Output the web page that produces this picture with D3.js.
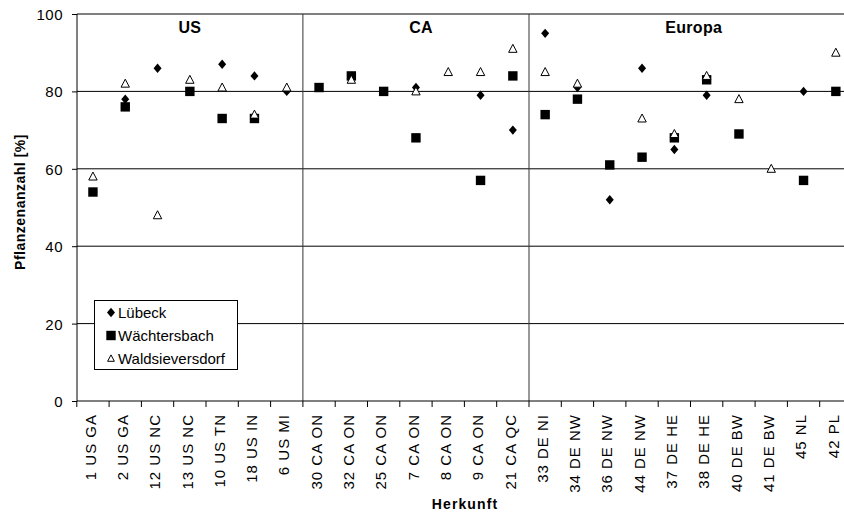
<!DOCTYPE html>
<html><head><meta charset="utf-8">
<script src="https://cdn.jsdelivr.net/npm/d3@7"></script>
<style>body{margin:0;background:#fff}svg{display:block;font-family:"Liberation Sans",Arial,sans-serif}</style>
</head><body>
<svg id="c" width="844" height="513"></svg>
<script>
const categories = ["1 US GA","2 US GA","12 US NC","13 US NC","10 US TN","18 US IN","6 US MI",
  "30 CA ON","32 CA ON","25 CA ON","7 CA ON","8 CA ON","9 CA ON","21 CA QC",
  "33 DE NI","34 DE NW","36 DE NW","44 DE NW","37 DE HE","38 DE HE","40 DE BW","41 DE BW","45 NL","42 PL"];
const luebeck = [null,78,86,null,87,84,80, null,null,null,81,null,79,70, 95,81,52,86,65,79,null,null,80,null];
const waechtersbach = [54,76,null,80,73,73,null, 81,84,80,68,null,57,84, 74,78,61,63,68,83,69,null,57,80];
const waldsieversdorf = [58,82,48,83,81,74,81, null,83,null,80,85,85,91, 85,82,null,73,69,84,78,60,null,90];
const yTicks = [0,20,40,60,80,100];
const groups = [{name:"US", pos:3.0},{name:"CA", pos:10.16},{name:"Europa", pos:18.6}];
const groupBreaks = [7,14];

const svg = d3.select("#c");
const x = d3.scaleLinear().domain([0, categories.length]).range([76.8, 852]);
const y = d3.scaleLinear().domain([0,100]).range([401,14]);

// gridlines
svg.append("g").selectAll("line").data(yTicks.filter(d=>d>0)).join("line")
  .attr("x1",77).attr("x2",852).attr("y1",d=>y(d)).attr("y2",d=>y(d))
  .attr("stroke","#000").attr("stroke-width",1);

// group separators
svg.append("g").selectAll("line").data(groupBreaks).join("line")
  .attr("x1",d=>x(d)).attr("x2",d=>x(d)).attr("y1",y(100)).attr("y2",y(0))
  .attr("stroke","#333").attr("stroke-width",1);

// y axis
const ya = svg.append("g").attr("transform","translate(77,0)")
  .call(d3.axisLeft(y).tickValues(yTicks).tickSize(5).tickPadding(9));
ya.select(".domain").attr("stroke","#000").attr("d","M0,"+y(0)+"V"+y(100));
ya.selectAll("text").attr("font-size",15).attr("fill","#000").attr("dy","0.36em")
  .style("font-family","Liberation Sans, Arial").style("letter-spacing","0.5px");
ya.selectAll(".tick line").attr("stroke","#000");

// x axis
svg.append("line").attr("x1",77).attr("x2",852).attr("y1",y(0)).attr("y2",y(0)).attr("stroke","#000");
svg.append("g").selectAll("line").data(d3.range(categories.length+1)).join("line")
  .attr("x1",d=>x(d)).attr("x2",d=>x(d)).attr("y1",y(0)).attr("y2",y(0)+6).attr("stroke","#000");
svg.append("g").selectAll("text").data(categories).join("text")
  .attr("transform",(d,i)=>`translate(${x(i+0.5)},414) rotate(-90)`)
  .attr("text-anchor","end").attr("dy","0.18em").attr("font-size",15)
  .style("letter-spacing","1px").text(d=>d);

// axis titles
svg.append("text").attr("transform","translate(24.5,202) rotate(-90)").attr("text-anchor","middle")
  .attr("font-size",14).attr("font-weight","bold").style("letter-spacing","0.5px").text("Pflanzenanzahl [%]");
svg.append("text").attr("x",465).attr("y",509).attr("text-anchor","middle")
  .attr("font-size",14).attr("font-weight","bold").style("letter-spacing","1.1px").text("Herkunft");

// group labels
svg.append("g").selectAll("text").data(groups).join("text")
  .attr("x",d=>x(d.pos+0.5)).attr("y",33.3).attr("text-anchor","middle")
  .attr("font-size",16).attr("font-weight","bold").style("letter-spacing","0.3px").text(d=>d.name);

function drawDiamond(g,cx,cy,s=1){g.append("path").attr("d",`M0,${-4.7*s}L${4*s},0L0,${4.7*s}L${-4*s},0Z`).attr("transform",`translate(${cx},${cy})`).attr("fill","#000");}
function drawSquare(g,cx,cy,s=1){g.append("rect").attr("x",cx-4.7*s).attr("y",cy-4.7*s).attr("width",9.4*s).attr("height",9.4*s).attr("fill","#000");}
function drawTri(g,cx,cy,s=1){g.append("path").attr("d",`M0,${-4.5*s}L${4.2*s},${3.5*s}L${-4.2*s},${3.5*s}Z`).attr("transform",`translate(${cx},${cy})`).attr("fill","#fff").attr("stroke","#000").attr("stroke-width",1);}

const series = [
  {name:"Lübeck", values:luebeck, draw:drawDiamond},
  {name:"Wächtersbach", values:waechtersbach, draw:drawSquare},
  {name:"Waldsieversdorf", values:waldsieversdorf, draw:drawTri}
];
const mg = svg.append("g");
series.forEach(s=>{
  s.values.forEach((v,i)=>{ if(v!=null) s.draw(mg, x(i+0.5), y(v)); });
});

// legend
const lg = svg.append("g");
lg.append("rect").attr("x",94.5).attr("y",300.5).attr("width",143).attr("height",69).attr("fill","#fff").attr("stroke","#000");
series.forEach((s,i)=>{
  const cy = 312.5 + i*23;
  s.draw(lg, 111, cy, i===2 ? 0.8 : 1);
  lg.append("text").attr("x",118).attr("y",cy).attr("dy","0.36em").attr("font-size",15).text(s.name);
});
</script>
</body></html>
